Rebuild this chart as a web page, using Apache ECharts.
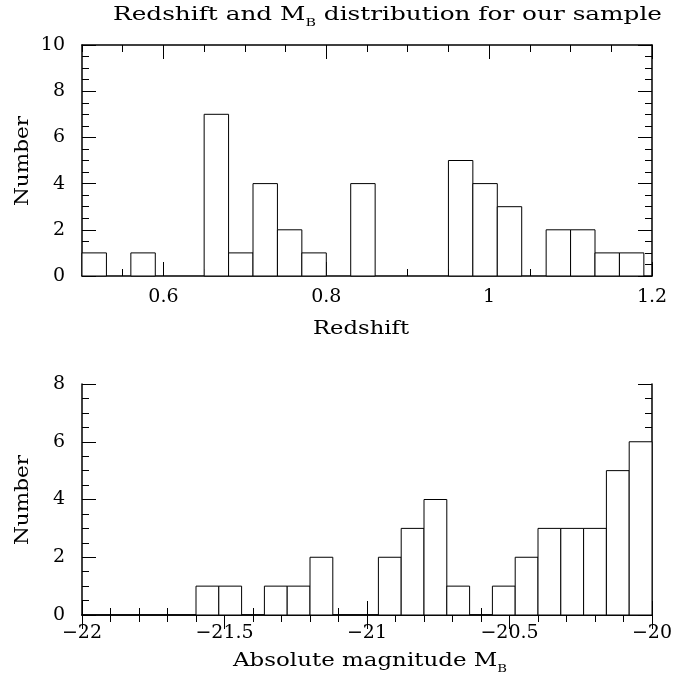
<!DOCTYPE html>
<html>
<head>
<meta charset="utf-8">
<script src="https://cdn.jsdelivr.net/npm/echarts@6/dist/echarts.min.js"></script>
<style>html,body{margin:0;padding:0;background:#fff;}#c{width:689px;height:677px;}</style>
</head>
<body>
<div id="c"></div>
<script>
// ---- Data ----
// Redshift histogram: bin lower edges, upper edges, counts (non-empty bins)
const zLo = [0.50, 0.56, 0.65, 0.68, 0.71, 0.74, 0.77, 0.83, 0.95, 0.98, 1.01, 1.07, 1.10, 1.13, 1.16];
const zHi = [0.53, 0.59, 0.68, 0.71, 0.74, 0.77, 0.80, 0.86, 0.98, 1.01, 1.04, 1.10, 1.13, 1.16, 1.19];
const zN  = [1, 1, 7, 1, 4, 2, 1, 4, 5, 4, 3, 2, 2, 1, 1];
// Absolute magnitude histogram
const mLo = [-21.60, -21.52, -21.36, -21.28, -21.20, -20.96, -20.88, -20.80, -20.72, -20.56, -20.48, -20.40, -20.32, -20.24, -20.16, -20.08];
const mHi = [-21.52, -21.44, -21.28, -21.20, -21.12, -20.88, -20.80, -20.72, -20.64, -20.48, -20.40, -20.32, -20.24, -20.16, -20.08, -20.00];
const mN  = [1, 1, 1, 1, 2, 2, 3, 4, 1, 1, 2, 3, 3, 3, 5, 6];
// Axis ticks
const zMajorTicks = [0.6, 0.8, 1.0, 1.2];
const titleParts = ['Redshift and M', 'B', ' distribution for our sample'];
const xName1 = 'Redshift';
const xName2Parts = ['Absolute magnitude M', 'B'];
const yName = 'Number';

// ---- Chart ----
const FONT = 'DejaVu Serif';
const chart = echarts.init(document.getElementById('c'), null, {renderer: 'canvas'});
const ctx = document.createElement('canvas').getContext('2d');
function tw(t, size) { ctx.font = size + 'px "' + FONT + '"'; return ctx.measureText(t).width; }
const MAIN = 19, SUB = 11;

const lab = {color: '#000', fontFamily: FONT, fontSize: 19};
const black = {color: '#000', width: 1.5};
const minus = v => String(v).replace('-', '\u2212');

function histItem(params, api) {
  const p0 = api.coord([api.value(0), api.value(2)]);
  const p1 = api.coord([api.value(1), 0]);
  return {type: 'rect', shape: {x: p0[0], y: p0[1], width: p1[0] - p0[0], height: p1[1] - p0[1]},
          style: {fill: '#fff', stroke: '#000', lineWidth: 1}};
}

function yAx(grid, pos, max, showLabel) {
  return {type: 'value', gridIndex: grid, position: pos, min: 0, max: max, interval: 2,
    axisLine: {show: true, lineStyle: black},
    axisTick: {show: true, inside: true, length: 14, lineStyle: {color: '#000', width: 1}},
    minorTick: {show: true, splitNumber: 4, length: 7, lineStyle: {color: '#000', width: 1}},
    axisLabel: Object.assign({show: showLabel, margin: 17}, lab),
    splitLine: {show: false}, minorSplitLine: {show: false}};
}

function titleScale(parts, target) {
  const nat = tw(parts[0], MAIN) + tw(parts[1], SUB) + (parts[2] ? tw(parts[2], MAIN) : 0);
  return target / nat;
}
const rich = {
  m: {fontFamily: FONT, fontSize: MAIN, fill: '#000', color: '#000'},
  s: {fontFamily: FONT, fontSize: SUB, fill: '#000', color: '#000', padding: [16, 0, 0, 0]}
};

const option = {
  backgroundColor: '#fff',
  animation: false,
  grid: [
    {left: 82, top: 45, width: 570, height: 231, containLabel: false, outerBoundsMode: 'none'},
    {left: 82, top: 384, width: 570, height: 231, containLabel: false, outerBoundsMode: 'none'}
  ],
  xAxis: [
    // top panel: minor ticks bottom
    {type: 'value', gridIndex: 0, position: 'bottom', min: 0.5, max: 1.2, interval: 0.05,
     axisLine: {show: true, lineStyle: black},
     axisTick: {show: true, inside: true, length: 7, lineStyle: {color: '#000', width: 1}},
     axisLabel: {show: false}, splitLine: {show: false}},
    // top panel: major ticks + labels bottom
    {type: 'value', gridIndex: 0, position: 'bottom', min: 0.5, max: 1.2, interval: 0.05,
     axisLine: {show: false},
     axisTick: {show: true, inside: true, length: 14, customValues: zMajorTicks, lineStyle: {color: '#000', width: 1}},
     axisLabel: Object.assign({show: true, margin: 12, customValues: zMajorTicks}, lab),
     splitLine: {show: false}},
    // top panel: mirrored top
    {type: 'value', gridIndex: 0, position: 'top', min: 0.5, max: 1.2, interval: 0.05,
     axisLine: {show: true, lineStyle: black},
     axisTick: {show: true, inside: true, length: 7, lineStyle: {color: '#000', width: 1}},
     axisLabel: {show: false}, splitLine: {show: false}},
    {type: 'value', gridIndex: 0, position: 'top', min: 0.5, max: 1.2, interval: 0.05,
     axisLine: {show: false},
     axisTick: {show: true, inside: true, length: 14, customValues: zMajorTicks, lineStyle: {color: '#000', width: 1}},
     axisLabel: {show: false}, splitLine: {show: false}},
    // bottom panel
    {type: 'value', gridIndex: 1, position: 'bottom', min: -22, max: -20, interval: 0.5,
     axisLine: {show: true, lineStyle: black},
     axisTick: {show: true, inside: true, length: 14, lineStyle: {color: '#000', width: 1}},
     minorTick: {show: true, splitNumber: 5, length: 7, lineStyle: {color: '#000', width: 1}},
     axisLabel: Object.assign({show: true, margin: 9, formatter: minus}, lab),
     splitLine: {show: false}, minorSplitLine: {show: false}},
    {type: 'value', gridIndex: 1, position: 'top', min: -22, max: -20, interval: 0.5,
     axisLine: {show: true, lineStyle: black},
     axisTick: {show: true, inside: true, length: 14, lineStyle: {color: '#000', width: 1}},
     minorTick: {show: true, splitNumber: 5, length: 7, lineStyle: {color: '#000', width: 1}},
     axisLabel: {show: false}, splitLine: {show: false}, minorSplitLine: {show: false}}
  ],
  yAxis: [
    yAx(0, 'left', 10, true), yAx(0, 'right', 10, false),
    yAx(1, 'left', 8, true), yAx(1, 'right', 8, false)
  ],
  series: [
    {type: 'custom', xAxisIndex: 0, yAxisIndex: 0, renderItem: histItem, clip: false,
     data: zLo.map((v, i) => [v, zHi[i], zN[i]])},
    {type: 'custom', xAxisIndex: 4, yAxisIndex: 2, renderItem: histItem, clip: false,
     data: mLo.map((v, i) => [v, mHi[i], mN[i]])}
  ],
  graphic: [
    {type: 'text', x: 113, y: 15, scaleX: titleScale(titleParts, 549), silent: true,
     style: {text: '{m|' + titleParts[0] + '}{s|' + titleParts[1] + '}{m|' + titleParts[2] + '}', rich: rich,
             align: 'left', verticalAlign: 'middle'}},
    {type: 'text', x: 361, y: 329, scaleX: 96 / tw(xName1, MAIN), silent: true,
     style: {text: xName1, fontFamily: FONT, fontSize: MAIN, fill: '#000', align: 'center', verticalAlign: 'middle'}},
    {type: 'text', x: 233, y: 661, scaleX: titleScale(xName2Parts, 274), silent: true,
     style: {text: '{m|' + xName2Parts[0] + '}{s|' + xName2Parts[1] + '}', rich: rich,
             align: 'left', verticalAlign: 'middle'}},
    {type: 'text', x: 23, y: 161, rotation: Math.PI / 2, scaleX: 90 / tw(yName, MAIN), silent: true,
     style: {text: yName, fontFamily: FONT, fontSize: MAIN, fill: '#000', align: 'center', verticalAlign: 'middle'}},
    {type: 'text', x: 23, y: 500, rotation: Math.PI / 2, scaleX: 90 / tw(yName, MAIN), silent: true,
     style: {text: yName, fontFamily: FONT, fontSize: MAIN, fill: '#000', align: 'center', verticalAlign: 'middle'}}
  ]
};
chart.setOption(option);
</script>
</body>
</html>
